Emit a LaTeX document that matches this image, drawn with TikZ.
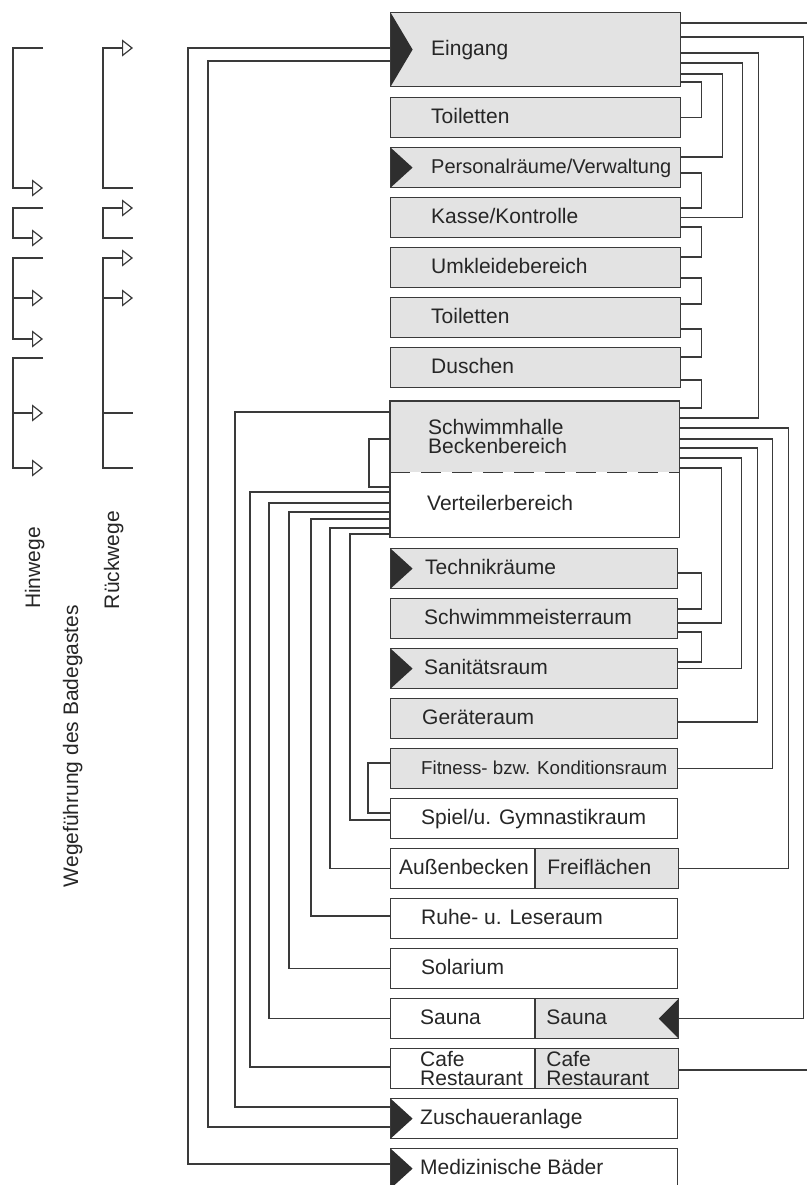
\documentclass[tikz,border=0pt]{standalone}
\usepackage{fontspec}
\setmainfont{Liberation Sans}
\usetikzlibrary{arrows.meta,positioning}
\definecolor{linie}{HTML}{3A3A3A}
\definecolor{hellgrau}{HTML}{E3E3E3}
\definecolor{dunkel}{HTML}{2E2E2E}

\begin{document}
\begin{tikzpicture}[
        x=1pt, y=-1pt,
        font=\fontsize{21}{17}\selectfont,
        raum/.style={draw=linie, line width=1.2pt, fill=hellgrau, minimum width=287pt,
                     minimum height=40pt, inner sep=0pt, anchor=north west},
        leer/.style={raum, fill=white},
        beschr/.style={anchor=west, inner sep=0pt, text=black!85,
                       text height=15pt, text depth=3pt},
        zweizeilig/.style={anchor=west, inner sep=0pt, text=black!85, align=left,
                           font=\fontsize{21}{19}\selectfont},
        marke/.style={path picture={\fill[dunkel] (path picture bounding box.north west)
                      -- (path picture bounding box.south west)
                      -- ([xshift=22pt]path picture bounding box.west) -- cycle;}},
        markerechts/.style={path picture={\fill[dunkel] (path picture bounding box.north east)
                      -- (path picture bounding box.south east)
                      -- ([xshift=-20pt]path picture bounding box.east) -- cycle;}},
        weg/.style={draw=linie, line width=1.2pt},
        hin/.style={weg, -{Triangle[open, length=11pt, width=17pt]}},
        rueck/.style={weg, {Triangle[open, length=11pt, width=17pt]}-},
    ]
    \useasboundingbox (0,0) rectangle (806,1185);

    % Legende
    \draw[hin] (43,48) -| (13,188) -- (43,188);
    \draw[hin] (43,208) -| (13,238) -- (43,238);
    \draw[hin] (43,258) -| (13,339) -- (43,339);
    \draw[hin] (13,298) -- (43,298);
    \draw[hin] (43,358) -| (13,468) -- (43,468);
    \draw[hin] (13,413) -- (43,413);

    \draw[rueck] (133,48) -| (103,188) -- (133,188);
    \draw[rueck] (133,208) -| (103,238) -- (133,238);
    \draw[rueck] (133,258) -| (103,468) -- (133,468);
    \draw[hin] (103,298) -- (133,298);
    \draw[weg] (103,413) -- (133,413);

    \node[beschr, rotate=90, anchor=center] (hinwege) at (34,568) {Hinwege};
    \node[beschr, rotate=90, anchor=center] (rueckwege) at (113,560) {Rückwege};
    \node[beschr, rotate=90, anchor=center] (wegefuehrung) at (72,746) {Wegeführung des Badegastes};

    % Raeume oben
    \node[raum, minimum width=290pt, minimum height=74pt, marke,
          label={[beschr, xshift=41pt]west:Eingang}] (eingang) at (390,12) {};
    \node[raum, minimum width=290pt, label={[beschr, xshift=41pt]west:Toiletten}] (toiletten) at (390,97) {};
    \node[raum, minimum width=290pt, marke,
          label={[beschr, xshift=41pt, font=\fontsize{20}{17}\selectfont]west:Personalräume/Verwaltung}] (personal) at (390,147) {};
    \node[raum, minimum width=290pt, label={[beschr, xshift=41pt]west:Kasse/Kontrolle}] (kasse) at (390,197) {};
    \node[raum, minimum width=290pt, label={[beschr, xshift=41pt]west:Umkleidebereich}] (umkleide) at (390,247) {};
    \node[raum, minimum width=290pt, label={[beschr, xshift=41pt]west:Toiletten}] (toiletten2) at (390,297) {};
    \node[raum, minimum width=290pt, label={[beschr, xshift=41pt]west:Duschen}] (duschen) at (390,347) {};

    % Schwimmhalle / Verteilerbereich
    \node[raum, draw=none, minimum width=288pt, minimum height=70pt,
          label={[zweizeilig, xshift=38pt]west:Schwimmhalle\\Beckenbereich}] (schwimmhalle) at (390,401) {};
    \node[leer, draw=none, minimum width=288pt, minimum height=65pt,
          label={[beschr, xshift=37pt]west:Verteilerbereich}] (verteiler) at (390,471) {};
    \draw[weg] (schwimmhalle.north west) rectangle (verteiler.south east);
    \draw[weg, dash pattern=on 20pt off 11pt] (schwimmhalle.south west) -- (schwimmhalle.south east);

    % Raeume unten
    \node[raum, marke, label={[beschr, xshift=35pt]west:Technikräume}] (technik) at (390,548) {};
    \node[raum, label={[beschr, xshift=34pt]west:Schwimmmeisterraum}] (meister) at (390,598) {};
    \node[raum, marke, label={[beschr, xshift=34pt]west:Sanitätsraum}] (sanitaet) at (390,648) {};
    \node[raum, label={[beschr, xshift=32pt]west:Geräteraum}] (geraete) at (390,698) {};
    \node[raum, label={[beschr, xshift=31pt, font=\fontsize{18.7}{17}\selectfont]west:Fitness- bzw. Konditionsraum}] (fitness) at (390,748) {};
    \node[leer, label={[beschr, xshift=31pt]west:Spiel/u. Gymnastikraum}] (spiel) at (390,798) {};
    \node[leer, minimum width=144pt, label={[beschr, xshift=9pt]west:Außenbecken}] (aussen) at (390,848) {};
    \node[raum, minimum width=143pt, label={[beschr, xshift=12pt]west:Freiflächen}] (freiflaechen) at (aussen.north east) {};
    \node[leer, label={[beschr, xshift=31pt]west:Ruhe- u. Leseraum}] (ruhe) at (390,898) {};
    \node[leer, label={[beschr, xshift=31pt]west:Solarium}] (solarium) at (390,948) {};
    \node[leer, minimum width=144pt, label={[beschr, xshift=30pt]west:Sauna}] (saunalinks) at (390,998) {};
    \node[raum, minimum width=143pt, markerechts, label={[beschr, xshift=11pt]west:Sauna}] (saunarechts) at (saunalinks.north east) {};
    \node[leer, minimum width=144pt, label={[zweizeilig, xshift=30pt]west:Cafe\\Restaurant}] (cafelinks) at (390,1048) {};
    \node[raum, minimum width=143pt, label={[zweizeilig, xshift=11pt]west:Cafe\\Restaurant}] (caferechts) at (cafelinks.north east) {};
    \node[leer, marke, label={[beschr, xshift=30pt]west:Zuschaueranlage}] (zuschauer) at (390,1098) {};
    \node[leer, marke, label={[beschr, xshift=30pt]west:Medizinische Bäder}] (medizin) at (390,1148) {};

    % Wege rechts
    \draw[weg] ([yshift=-11pt]eingang.north east) -- ++(126,0) |- ([yshift=-22pt]caferechts.north east);
    \draw[weg] ([yshift=-25pt]eingang.north east) -- ++(122,0) |- (saunarechts.east);
    \draw[weg] ([yshift=-41pt]eingang.north east) -- ++(77,0) |- ([yshift=-17pt]schwimmhalle.north east);
    \draw[weg] ([yshift=-51pt]eingang.north east) -- ++(61,0) |- (kasse.east);
    \draw[weg] ([yshift=-62pt]eingang.north east) -- ++(41,0) |- ([yshift=-10pt]personal.north east);
    \draw[weg] ([yshift=-70pt]eingang.north east) -- ++(20,0) |- (toiletten.east);
    \draw[weg] ([yshift=-26pt]personal.north east) -- ++(20,0) |- ([yshift=-11pt]kasse.north east);
    \draw[weg] ([yshift=-30pt]kasse.north east) -- ++(20,0) |- ([yshift=-10pt]umkleide.north east);
    \draw[weg] ([yshift=-31pt]umkleide.north east) -- ++(20,0) |- ([yshift=-7pt]toiletten2.north east);
    \draw[weg] ([yshift=-32pt]toiletten2.north east) -- ++(20,0) |- ([yshift=-10pt]duschen.north east);
    \draw[weg] ([yshift=-33pt]duschen.north east) -- ++(20,0) |- ([yshift=-7pt]schwimmhalle.north east);

    \draw[weg] ([yshift=-27pt]schwimmhalle.north east) -- ++(109,0) |- (freiflaechen.east);
    \draw[weg] ([yshift=-38pt]schwimmhalle.north east) -- ++(93,0) |- (fitness.east);
    \draw[weg] ([yshift=-47pt]schwimmhalle.north east) -- ++(78,0) |- ([yshift=-24pt]geraete.north east);
    \draw[weg] ([yshift=-57pt]schwimmhalle.north east) -- ++(62,0) |- (sanitaet.east);
    \draw[weg] ([yshift=-67pt]schwimmhalle.north east) -- ++(42,0) |- ([yshift=-25pt]meister.north east);
    \draw[weg] ([yshift=-25pt]technik.north east) -- ++(23,0) |- ([yshift=-11pt]meister.north east);
    \draw[weg] ([yshift=-34pt]meister.north east) -- ++(23,0) |- ([yshift=-14pt]sanitaet.north east);

    % Wege links
    \draw[weg] ([yshift=-36pt]eingang.north west) -- ++(-202,0) |- ([yshift=-16pt]medizin.north west);
    \draw[weg] ([yshift=-49pt]eingang.north west) -- ++(-182,0) |- ([yshift=-29pt]zuschauer.north west);
    \draw[weg] ([yshift=-11pt]schwimmhalle.north west) -- ++(-155,0) |- ([yshift=-9pt]zuschauer.north west);
    \draw[weg] ([yshift=-38pt]schwimmhalle.north west) -- ++(-21,0) |- ([yshift=-16pt]verteiler.north west);
    \draw[weg] ([yshift=-21pt]verteiler.north west) -- ++(-140,0) |- ([yshift=-19pt]cafelinks.north west);
    \draw[weg] ([yshift=-32pt]verteiler.north west) -- ++(-121,0) |- (saunalinks.west);
    \draw[weg] ([yshift=-41pt]verteiler.north west) -- ++(-101,0) |- (solarium.west);
    \draw[weg] ([yshift=-48pt]verteiler.north west) -- ++(-79,0) |- ([yshift=-18pt]ruhe.north west);
    \draw[weg] ([yshift=-57pt]verteiler.north west) -- ++(-60,0) |- (aussen.west);
    \draw[weg] ([yshift=-63pt]verteiler.north west) -- ++(-40,0) |- ([yshift=-22pt]spiel.north west);
    \draw[weg] ([yshift=-15pt]fitness.north west) -- ++(-22,0) |- ([yshift=-15pt]spiel.north west);
\end{tikzpicture}
\end{document}
